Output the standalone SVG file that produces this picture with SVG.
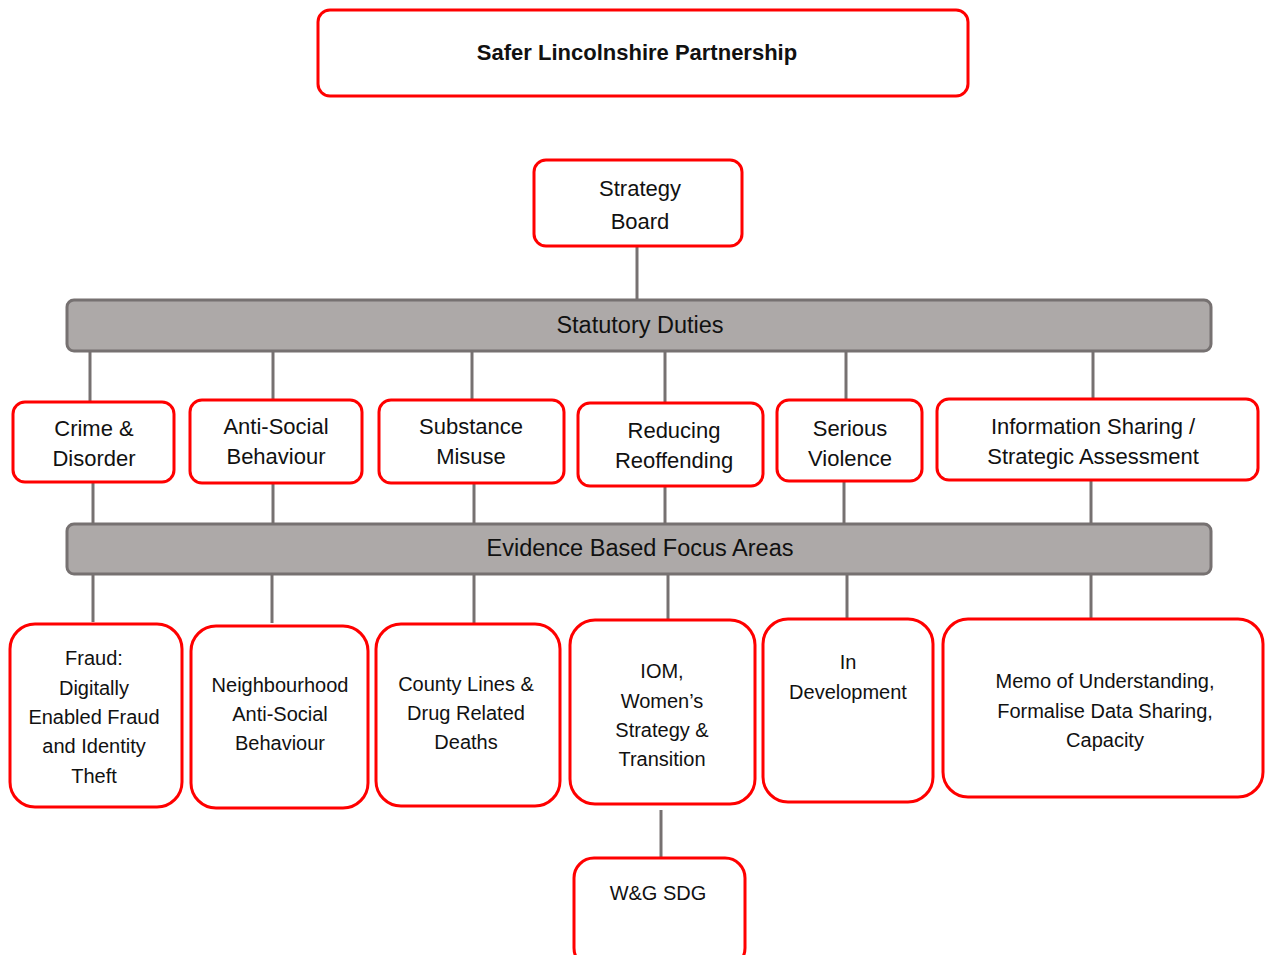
<svg xmlns="http://www.w3.org/2000/svg" width="1265" height="955" viewBox="0 0 1265 955">
<style>
.box{fill:#fff;stroke:#f00;stroke-width:3}
.bar{fill:#ada9a8;stroke:#767171;stroke-width:3}
.ln{stroke:#767171;stroke-width:3;fill:none}
text{font-family:"Liberation Sans",Arial,sans-serif;fill:#111;text-anchor:middle}
.t1{font-size:22px}
.t2{font-size:20px}
.tb{font-size:23.5px}
.title{font-size:22px;font-weight:bold}
</style>
<rect width="1265" height="955" fill="#fff"/>
<g id="connectors">
<line class="ln" x1="637" y1="246" x2="637" y2="301"/>
<line class="ln" x1="90" y1="351" x2="90" y2="403"/>
<line class="ln" x1="273" y1="351" x2="273" y2="401"/>
<line class="ln" x1="472" y1="351" x2="472" y2="401"/>
<line class="ln" x1="665" y1="351" x2="665" y2="404"/>
<line class="ln" x1="846" y1="351" x2="846" y2="401"/>
<line class="ln" x1="1093" y1="351" x2="1093" y2="400"/>
<line class="ln" x1="93" y1="482" x2="93" y2="525"/>
<line class="ln" x1="273" y1="483" x2="273" y2="525"/>
<line class="ln" x1="474" y1="483" x2="474" y2="525"/>
<line class="ln" x1="665" y1="486" x2="665" y2="525"/>
<line class="ln" x1="844" y1="481" x2="844" y2="525"/>
<line class="ln" x1="1091" y1="480" x2="1091" y2="525"/>
<line class="ln" x1="93" y1="574" x2="93" y2="622"/>
<line class="ln" x1="272" y1="574" x2="272" y2="623"/>
<line class="ln" x1="474" y1="574" x2="474" y2="623"/>
<line class="ln" x1="668" y1="574" x2="668" y2="620"/>
<line class="ln" x1="847" y1="574" x2="847" y2="619"/>
<line class="ln" x1="1091" y1="574" x2="1091" y2="619"/>
<line class="ln" x1="661" y1="810" x2="661" y2="858"/>
</g>
<g id="n-slp">
<rect class="box" x="318" y="10" width="650" height="86" rx="12"/>
<text class="title" x="637" y="60">Safer Lincolnshire Partnership</text>
</g>
<g id="n-strategy">
<rect class="box" x="534" y="160" width="208" height="86" rx="12"/>
<text class="t1" x="640" y="196">Strategy</text>
<text class="t1" x="640" y="229">Board</text>
</g>
<g id="n-statutory">
<rect class="bar" x="67" y="300" width="1144" height="51" rx="7"/>
<text class="tb" x="640" y="333">Statutory Duties</text>
</g>
<g id="n-crime">
<rect class="box" x="13" y="402" width="161" height="80" rx="12"/>
<text class="t1" x="94" y="436">Crime &amp;</text>
<text class="t1" x="94" y="466">Disorder</text>
</g>
<g id="n-asb">
<rect class="box" x="190" y="400" width="172" height="83" rx="12"/>
<text class="t1" x="276" y="434">Anti-Social</text>
<text class="t1" x="276" y="464">Behaviour</text>
</g>
<g id="n-substance">
<rect class="box" x="379" y="400" width="185" height="83" rx="12"/>
<text class="t1" x="471" y="434">Substance</text>
<text class="t1" x="471" y="464">Misuse</text>
</g>
<g id="n-reducing">
<rect class="box" x="578" y="403" width="185" height="83" rx="12"/>
<text class="t1" x="674" y="438">Reducing</text>
<text class="t1" x="674" y="468">Reoffending</text>
</g>
<g id="n-serious">
<rect class="box" x="777" y="400" width="145" height="81" rx="12"/>
<text class="t1" x="850" y="436">Serious</text>
<text class="t1" x="850" y="466">Violence</text>
</g>
<g id="n-info">
<rect class="box" x="937" y="399" width="321" height="81" rx="12"/>
<text class="t1" x="1093" y="434">Information Sharing /</text>
<text class="t1" x="1093" y="464">Strategic Assessment</text>
</g>
<g id="n-evidence">
<rect class="bar" x="67" y="524" width="1144" height="50" rx="7"/>
<text class="tb" x="640" y="556">Evidence Based Focus Areas</text>
</g>
<g id="n-fraud">
<rect class="box" x="10" y="624" width="172" height="183" rx="25"/>
<text class="t2" x="94" y="665">Fraud:</text>
<text class="t2" x="94" y="695">Digitally</text>
<text class="t2" x="94" y="724">Enabled Fraud</text>
<text class="t2" x="94" y="753">and Identity</text>
<text class="t2" x="94" y="783">Theft</text>
</g>
<g id="n-neighbourhood">
<rect class="box" x="191" y="626" width="177" height="182" rx="25"/>
<text class="t2" x="280" y="692">Neighbourhood</text>
<text class="t2" x="280" y="721">Anti-Social</text>
<text class="t2" x="280" y="750">Behaviour</text>
</g>
<g id="n-county">
<rect class="box" x="376" y="624" width="184" height="182" rx="25"/>
<text class="t2" x="466" y="691">County Lines &amp;</text>
<text class="t2" x="466" y="720">Drug Related</text>
<text class="t2" x="466" y="749">Deaths</text>
</g>
<g id="n-iom">
<rect class="box" x="570" y="620" width="185" height="184" rx="25"/>
<text class="t2" x="662" y="678">IOM,</text>
<text class="t2" x="662" y="708">Women’s</text>
<text class="t2" x="662" y="737">Strategy &amp;</text>
<text class="t2" x="662" y="766">Transition</text>
</g>
<g id="n-indev">
<rect class="box" x="763" y="619" width="170" height="183" rx="25"/>
<text class="t2" x="848" y="669">In</text>
<text class="t2" x="848" y="699">Development</text>
</g>
<g id="n-memo">
<rect class="box" x="943" y="619" width="320" height="178" rx="25"/>
<text class="t2" x="1105" y="688">Memo of Understanding,</text>
<text class="t2" x="1105" y="718">Formalise Data Sharing,</text>
<text class="t2" x="1105" y="747">Capacity</text>
</g>
<g id="n-wg">
<rect class="box" x="574" y="858" width="171" height="110" rx="20"/>
<text class="t2" x="658" y="900">W&amp;G SDG</text>
</g>
</svg>
